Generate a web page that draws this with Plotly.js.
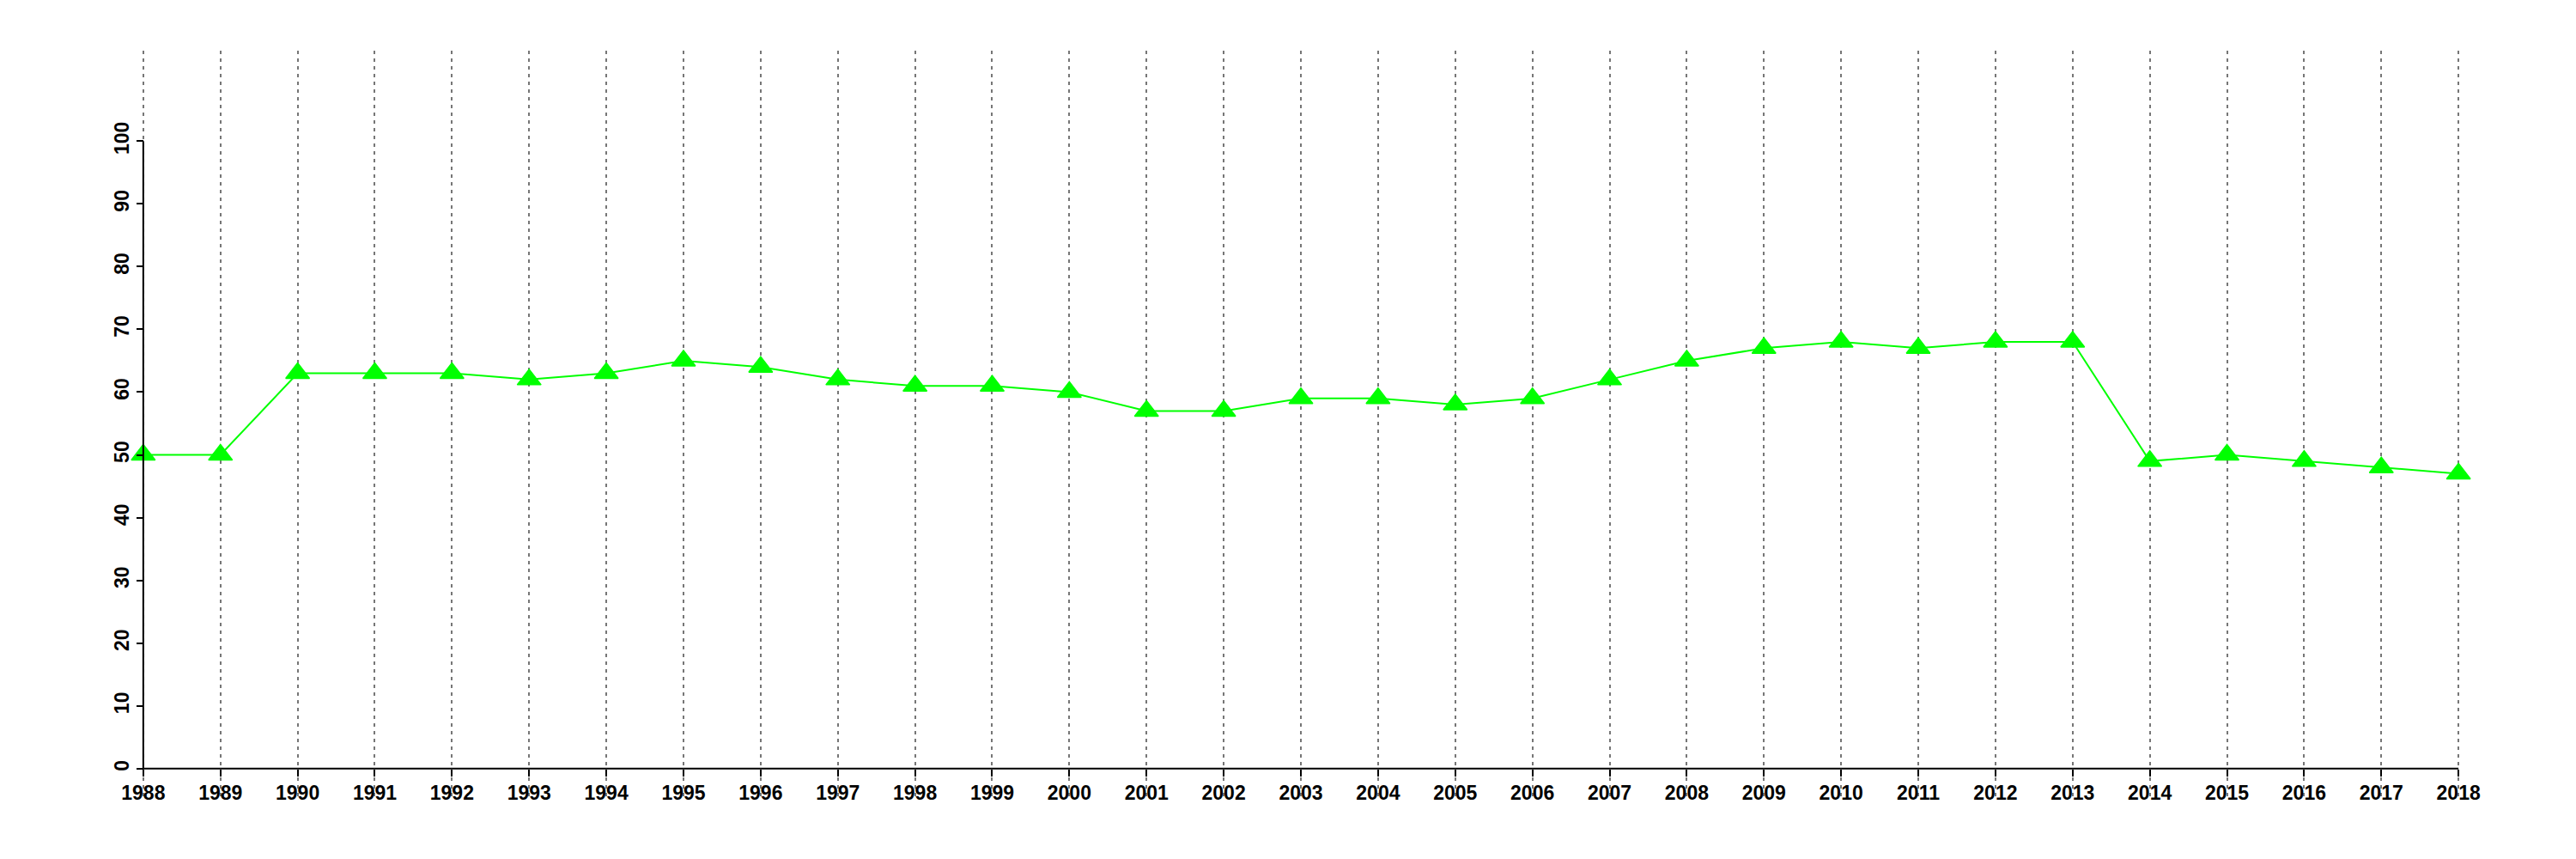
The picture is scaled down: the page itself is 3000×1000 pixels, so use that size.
<!DOCTYPE html>
<html>
<head>
<meta charset="utf-8">
<script src="https://cdn.plot.ly/plotly-3.0.1.min.js"></script>
<style>html,body{margin:0;padding:0;background:#fff;}#chart{width:3000px;height:1000px;}</style>
</head>
<body>
<div id="chart"></div>
<script>
const years = [1988,1989,1990,1991,1992,1993,1994,1995,1996,1997,1998,1999,2000,2001,2002,2003,2004,2005,2006,2007,2008,2009,2010,2011,2012,2013,2014,2015,2016,2017,2018];
const values = [50,50,63,63,63,62,63,65,64,62,61,61,60,57,57,59,59,58,59,62,65,67,68,67,68,68,49,50,49,48,47];
const yTicks = [0,10,20,30,40,50,60,70,80,90,100];
const yTickLabels = ["0","10","20","30","40","50","60","70","80","90","100"];

const xMin = years[0], xMax = years[years.length-1];
const yMin = 0, yMax = 110;
const xPad = (xMax - xMin) * 0.04, yPad = (yMax - yMin) * 0.04;
const xRange = [xMin - xPad, xMax + xPad];
const yRange = [yMin - yPad, yMax + yPad];

const tickFont = {family: "Liberation Sans, Arial, sans-serif", size: 23, color: "#000", weight: "bold"};

const trace = {
  x: years, y: values, type: "scatter", mode: "lines+markers",
  line: {color: "#00FF00", width: 2},
  marker: {symbol: "triangle-up", size: 24, color: "#00FF00", line: {color: "#00FF00", width: 1.5}},
  cliponaxis: false, hoverinfo: "skip"
};

const layout = {
  width: 3000, height: 1000,
  margin: {l: 59, r: 29, t: 59, b: 73, pad: 0},
  paper_bgcolor: "#fff", plot_bgcolor: "#fff",
  showlegend: false,
  xaxis: {
    range: xRange, anchor: "free", position: (0 - yRange[0]) / (yRange[1] - yRange[0]),
    tickvals: years, ticktext: years.map(String),
    ticks: "outside", ticklen: 8, tickwidth: 2, tickcolor: "#000",
    showgrid: true, gridcolor: "#767676", gridwidth: 2, griddash: "4px,5px",
    showline: false, zeroline: false, tickfont: tickFont, tickangle: 0
  },
  yaxis: {
    range: yRange, anchor: "free", position: (xMin - xRange[0]) / (xRange[1] - xRange[0]),
    tickvals: yTicks, ticktext: yTickLabels,
    ticks: "outside", ticklen: 8, tickwidth: 2, tickcolor: "#000",
    showgrid: false, showline: false, zeroline: false,
    tickfont: tickFont, tickangle: -90
  },
  shapes: [
    {type: "line", xref: "x", yref: "y", x0: xMin, x1: xMin, y0: yTicks[0], y1: yTicks[yTicks.length-1], line: {color: "#000", width: 2}, layer: "above"},
    {type: "line", xref: "x", yref: "y", x0: xMin, x1: xMax, y0: yTicks[0], y1: yTicks[0], line: {color: "#000", width: 2}, layer: "above"}
  ]
};

Plotly.newPlot("chart", [trace], layout, {staticPlot: true, displayModeBar: false});
</script>
</body>
</html>
